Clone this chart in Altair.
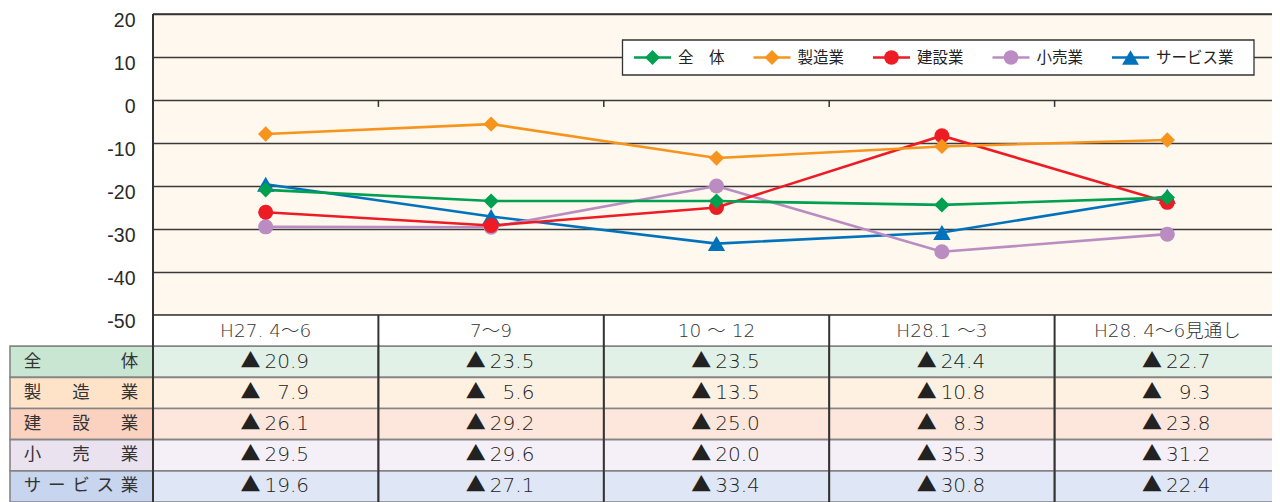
import altair as alt
import pandas as pd

# ---------------- data ----------------
CATEGORIES = ["H27. 4～6", "7～9", "10 ～ 12", "H28.1 ～3", "H28. 4～6見通し"]
SERIES = ["全体", "製造業", "建設業", "小売業", "サービス業"]
LEGEND_LABELS = ["全　体", "製造業", "建設業", "小売業", "サービス業"]
VAL_ALL = [-20.9, -23.5, -23.5, -24.4, -22.7]
VAL_MFG = [-7.9, -5.6, -13.5, -10.8, -9.3]
VAL_CON = [-26.1, -29.2, -25.0, -8.3, -23.8]
VAL_RET = [-29.5, -29.6, -20.0, -35.3, -31.2]
VAL_SVC = [-19.6, -27.1, -33.4, -30.8, -22.4]
Y_TICKS = [20, 10, 0, -10, -20, -30, -40, -50]

# ---------------- styles ----------------
LINE_COLORS = ["#00A051", "#F7941D", "#ED1C24", "#BB8CC1", "#0072BC"]
SHAPES = ["diamond", "diamond", "circle", "circle", "triangle-up"]
SHAPE_SIZE = {"diamond": 235, "circle": 225, "triangle-up": 300}
LABEL_FILLS = ["#C9E6D3", "#FEE3C9", "#FBD1BF", "#EBE2F0", "#C7D5EE"]
CELL_FILLS = ["#E2F1E7", "#FEF1E2", "#FDE6DB", "#F5F0F7", "#DFE6F5"]
FONT_JP = "Noto Sans CJK JP"
FONT_LAT = "DejaVu Sans, Noto Sans CJK JP"
FONT_AXIS = "Liberation Sans"

VALUES = [VAL_ALL, VAL_MFG, VAL_CON, VAL_RET, VAL_SVC]

# ---------------- layout (pixels) ----------------
PAD_LEFT, PAD_TOP = 145, 6
SVG_W = 1264      # keeps the page within the 1280 px window
W = SVG_W - PAD_LEFT
H = 488           # plot + table height
PLOT_H = 301      # line chart part
ORIGIN_X, ORIGIN_Y = 153, 14
COL_W = 225.4
PX_PER_UNIT = PLOT_H / (Y_TICKS[0] - Y_TICKS[-1])
LABEL_LEFT = -143 / COL_W
CHAR_FIRST = -120.5 / COL_W
CHAR_LAST = -23.5 / COL_W


def ux(px):   # absolute pixel x -> x-scale units
    return (px - ORIGIN_X) / COL_W


def uy(py):   # absolute pixel y -> y-scale units
    return Y_TICKS[0] - (py - ORIGIN_Y) / PX_PER_UNIT


NCOL = len(CATEGORIES)
xs = alt.Scale(domain=[0, NCOL], range=[0, COL_W * NCOL], nice=False, zero=False)
ys = alt.Scale(domain=[Y_TICKS[-1], Y_TICKS[0]], range=[PLOT_H, 0], nice=False, zero=False)
ts = alt.Scale(domain=[0, 6], range=[PLOT_H, H], nice=False, zero=False)

color = alt.Color("series:N", scale=alt.Scale(domain=SERIES, range=LINE_COLORS), legend=None)
shape = alt.Shape("series:N", scale=alt.Scale(domain=SERIES, range=SHAPES), legend=None)
size = alt.Size("sz:Q", scale=None, legend=None)
yaxis = alt.Axis(values=Y_TICKS, orient="left", grid=True, gridColor="#3a3a3a", gridWidth=1.3,
                 domain=False, ticks=False, labelFont=FONT_AXIS, labelFontSize=19.5,
                 labelColor="#2a2a2a", labelPadding=18, labelOffset=6,
                 labelExpr="'' + datum.value")


def XQ(f):
    return alt.X(f, scale=xs, axis=None)


def YQ(f):
    return alt.Y(f, scale=ys, axis=yaxis, title=None)


# ---------------- line chart ----------------
rows = []
for s in reversed(range(len(SERIES))):
    for c in range(NCOL):
        rows.append({"series": SERIES[s], "x": c + 0.5, "v": VALUES[s][c],
                     "sz": SHAPE_SIZE[SHAPES[s]]})
line_df = pd.DataFrame(rows)

lines = alt.Chart(line_df).mark_line(strokeWidth=2.6).encode(x=XQ("x:Q"), y=YQ("v:Q"), color=color)
points = alt.Chart(line_df).mark_point(filled=True, opacity=1, strokeWidth=0).encode(
    x=XQ("x:Q"), y=YQ("v:Q"), color=color, shape=shape, size=size)

tick_df = pd.DataFrame({"x": list(range(1, NCOL)), "y0": 0, "y1": -1.6})
zero_ticks = alt.Chart(tick_df).mark_rule(color="#333333", strokeWidth=1.5).encode(
    x=XQ("x:Q"), y=YQ("y0:Q"), y2="y1:Q")

border_df = pd.DataFrame({"x": [0], "y0": [Y_TICKS[0]], "y1": [Y_TICKS[-1]]})
left_border = alt.Chart(border_df).mark_rule(color="#333333", strokeWidth=2).encode(
    x=XQ("x:Q"), y=YQ("y0:Q"), y2="y1:Q")

hb_df = pd.DataFrame({"x0": 0, "x1": NCOL, "y": [Y_TICKS[0], Y_TICKS[-1]]})
h_border = alt.Chart(hb_df).mark_rule(color="#333333", strokeWidth=1.5).encode(
    x=XQ("x0:Q"), x2="x1:Q", y=YQ("y:Q"))

# ---------------- legend (drawn from the series arrays) ----------------
LEG_LEFT, LEG_RIGHT, LEG_TOP, LEG_BOTTOM = 622.5, 1254, 40, 75
LEG_PAD, SEG_LEN, TXT_GAP, CHAR_W, ENTRY_GAP = 11.5, 37, 7, 15.5, 29
leg_mid = (LEG_TOP + LEG_BOTTOM) / 2
box_df = pd.DataFrame({"x0": [ux(LEG_LEFT)], "x1": [ux(LEG_RIGHT)],
                       "y0": [uy(LEG_TOP)], "y1": [uy(LEG_BOTTOM)]})
leg_box = alt.Chart(box_df).mark_rect(fill="#FFFFFF", stroke="#333333", strokeWidth=1.3).encode(
    x=XQ("x0:Q"), x2="x1:Q", y=YQ("y0:Q"), y2="y1:Q")

leg_rows = []
cursor = LEG_LEFT + LEG_PAD
for s, name in enumerate(SERIES):
    lab = LEGEND_LABELS[s]
    leg_rows.append({"series": name, "label": lab,
                     "sx0": ux(cursor), "sx1": ux(cursor + SEG_LEN),
                     "mx": ux(cursor + SEG_LEN / 2), "tx": ux(cursor + SEG_LEN + TXT_GAP),
                     "y": uy(leg_mid), "sz": SHAPE_SIZE[SHAPES[s]] * 0.95})
    cursor += SEG_LEN + TXT_GAP + CHAR_W * len(lab) + ENTRY_GAP
leg_df = pd.DataFrame(leg_rows)
leg_seg = alt.Chart(leg_df).mark_rule(strokeWidth=2.6).encode(
    x=XQ("sx0:Q"), x2="sx1:Q", y=YQ("y:Q"), color=color)
leg_mark = alt.Chart(leg_df).mark_point(filled=True, opacity=1, strokeWidth=0).encode(
    x=XQ("mx:Q"), y=YQ("y:Q"), color=color, shape=shape, size=size)
leg_text = alt.Chart(leg_df).mark_text(font=FONT_JP, fontSize=15.5, color="#222222",
                                       align="left", baseline="middle").encode(
    x=XQ("tx:Q"), y=YQ("y:Q"), text="label:N")

line_layer = alt.layer(zero_ticks, left_border, h_border, lines, points,
                       leg_box, leg_seg, leg_mark, leg_text)

# ---------------- table ----------------
head_rows, body_rows = [], []
for c in range(NCOL):
    head_rows.append({"x0": c, "x1": c + 1, "y0": 0, "y1": 1, "fill": "#FFFFFF"})
for r in range(len(SERIES)):
    body_rows.append({"x0": LABEL_LEFT, "x1": 0, "y0": r + 1, "y1": r + 2, "fill": LABEL_FILLS[r]})
    for c in range(NCOL):
        body_rows.append({"x0": c, "x1": c + 1, "y0": r + 1, "y1": r + 2, "fill": CELL_FILLS[r]})


def TY(f):
    return alt.Y(f, scale=ts, axis=None)


def rect_enc(ch):
    return ch.encode(x=XQ("x0:Q"), x2="x1:Q", y=TY("y0:Q"), y2="y1:Q",
                     fill=alt.Fill("fill:N", scale=None, legend=None))


head_rects = rect_enc(alt.Chart(pd.DataFrame(head_rows)).mark_rect(strokeWidth=0))
body_rects = rect_enc(alt.Chart(pd.DataFrame(body_rows)).mark_rect(stroke="#858585", strokeWidth=1.6))

vl_df = pd.DataFrame({"x": list(range(NCOL)), "y0": 0, "y1": 6})
vlines = alt.Chart(vl_df).mark_rule(color="#333333", strokeWidth=2).encode(
    x=XQ("x:Q"), y=TY("y0:Q"), y2="y1:Q")

head_df = pd.DataFrame({"x": [c + 0.5 for c in range(NCOL)], "y": 0.5, "t": CATEGORIES})
head_text = alt.Chart(head_df).mark_text(font=FONT_LAT, fontSize=18.5, fontWeight=300,
                                         color="#333333").encode(
    x=XQ("x:Q"), y=TY("y:Q"), text="t:N")

val_rows = []
for r in range(len(SERIES)):
    for c in range(NCOL):
        a = abs(VALUES[r][c])
        pad = "\u2007" if a < 10 else ""
        val_rows.append({"x": c + 0.5, "y": r + 1.5, "t": "▲\u2009" + pad + f"{a:.1f}"})
val_text = alt.Chart(pd.DataFrame(val_rows)).mark_text(
    font=FONT_LAT, fontSize=20, fontWeight=300, color="#222222", dx=9).encode(
    x=XQ("x:Q"), y=TY("y:Q"), text="t:N")

char_rows = []
for r, name in enumerate(SERIES):
    n = len(name)
    for k, ch in enumerate(name):
        xpos = CHAR_FIRST + (CHAR_LAST - CHAR_FIRST) * (k / (n - 1) if n > 1 else 0)
        char_rows.append({"x": xpos, "y": r + 1.5, "t": ch})
label_text = alt.Chart(pd.DataFrame(char_rows)).mark_text(
    font=FONT_JP, fontSize=17.5, color="#333333").encode(
    x=XQ("x:Q"), y=TY("y:Q"), text="t:N")

table_layer = alt.layer(head_rects, body_rects, vlines, head_text, val_text, label_text)

chart = alt.layer(table_layer, line_layer).resolve_scale(y="independent").properties(
    width=W, height=H,
    autosize=alt.AutoSizeParams(type="none"),
    padding={"left": PAD_LEFT, "top": PAD_TOP, "right": 0, "bottom": 0},
).configure_view(fill="#FEF8EE", stroke="transparent")

chart.save("out.html", embed_options={"renderer": "svg", "actions": False})
